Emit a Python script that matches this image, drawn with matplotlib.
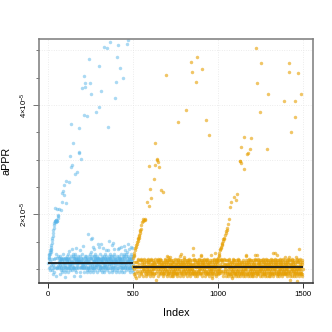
import numpy as np
import matplotlib
matplotlib.use("Agg")
import matplotlib.pyplot as plt
from matplotlib.ticker import FixedLocator, FixedFormatter

plt.rcParams['font.family'] = ['Liberation Sans', 'DejaVu Sans']
plt.rcParams['mathtext.fontset'] = 'custom'
plt.rcParams['mathtext.rm'] = 'Liberation Sans'
plt.rcParams['mathtext.default'] = 'regular'

# all values in units of 1e-5
SCALE = 1e-5

# dense band, one letter per index (a = lowest level, t = highest)
# blue: index 0-499, orange: index 500-1499
blue_band_lo, blue_band_step = 0.813, 0.033
blue_band = (
    "jhmkgiolfn kjhepmigqk lhjnfkdmio gjlkhnemjf ikmhgjolck"
    "mgjkhlnfie hkjmgoildk jnhflkmgej ilkhjmfngo kgjlnhiemb"
    "hjlkgmifnk ljhkemgjoi nkhgljfmki hjmlkgnief lkjhmgoinc"
    "gkmjhlifon jkhmglenjk ihlkgjnmfh kjlgcmhekn jhgkmlofij"
    "lhkjgnmief kgjhlmonik hjkglnfmej ilgkhjmnfk gjlhkiemop"
    "khjlmgifnj hlkgjmenki jgkhlnmfoi kjhglimenk hjkmlgfnid"
    "mjhkgliofn jlhkmgenjk gkjhlmnfie khjlgmoink jhlkgmifnq"
    "hkgjlmnife kjhlgmoink ljgkhmenfj ihkjlgmnof gkjlhmiekn"
    "jlkhgmnfio hkjglmenrk kgjhlmfnoj ihlkjgmenf kjhgmlonie"
    "lgkjhmifno jhkgpmenjk hkjlgmnfie gjkhlmoink jlhkgmfnie"
)
orange_band_lo, orange_band_step = 0.742, 0.032
orange_band = (
    "kgjhmlifne jhkglmdnjk hlkjgmnfoi gkjhlmeink jlhkgmfnoi"
    "hjkglmnfie kjhlgmoink gjlkhmenfj ihkjlgmnof lkjhgmiekn"
    "jkhglmnfoi hkjlgmenik kgjhlmfnoj ihlkjgmcnf kjhgmlonie"
    "gljkhmifno jhkglmenjk hkjlgmnfie gjkhlmoink jlhkgmfnie"
    "mhjkglpnfo kjhmgleonj ihklgjnmfe kjlgimhenk jhgkmlofij"
    "lkhjgnmief kgjhlmonik hjkglnfmej ilgkhjmnfk gjlhkiemop"
    "khjlmgifnj hlkgjmenki jgkhlnmfoi kjhglimenk hjkmlgfnid"
    "ijhkgmlonf jlhkmgenjk gkjhlmnfie khjlgmoink jhlkgmifnq"
    "hkgjlmnife kjhlgmoink ljgkhmenfj ihkjlgmnof gkjlhmiekn"
    "jlkhgmnfio hkjgdmenik kgjhlmfnoj ihlkjgmenf kjhgmlonie"
    "fkjhlgmnie gjkhlmonik jhlkgmfnei kgjhlmnofi hjkglmenik"
    "kjhglmnief hlkjgmoinf jgkhlmenfi khjgldmnoe ihjkglmnfk"
    "gjhklmnife kjglhmoien hkjglmnfie jlkhgmoinf kjhglmenif"
    "hkjgmlnfei jkhlgmqinf gkjhlmnefi hjklgmoine kjhlgmnfie"
    "jkgmhlnife hjklgmoinf kgjhlmnefi jhkglmoinf kjhlgmenfi"
    "lhjkgmnife kjhglmoinf hjkgmlenfi kgjhlmoine jhkglmnfie"
    "hjgklmnfie kjhlgmoinf gjkhlmnefi hkjglmoinr kjhglmenfi"
    "kjhglmnfie hjkglmoinf jkhglmnefi kjhglmoinf hjkglmenfi"
    "jhkglmnife kjhglmoinf hkjglcnefi jkhglmoine kjhglmnfie"
    "hkjglmnfie jhkgbmoinf kjhglmnefi hjkglmoinf jkhglmenfi"
)

# points away from the band: (index, value)
blue_extra = [
    (1, 1.19), (3, 1.22), (5, 1.25), (7, 1.28), (9, 1.31), (11, 1.34), (13, 1.37),
    (15, 1.40), (17, 1.44), (19, 1.48), (21, 1.53), (23, 1.57), (25, 1.61), (27, 1.66),
    (29, 1.71), (31, 1.75), (33, 1.80), (35, 1.84), (37, 1.86), (39, 1.88), (41, 1.87),
    (43, 1.89), (45, 1.86), (47, 1.90), (49, 1.88), (53, 1.87), (55, 1.98), (57, 1.94),
    (59, 1.96), (40, 2.12), (52, 2.10), (65, 2.09), (75, 2.08), (79, 2.22), (106, 2.21),
    (83, 2.39), (87, 2.42), (91, 2.36), (94, 2.54), (103, 2.61), (122, 2.59), (132, 2.86),
    (138, 2.91), (156, 2.74), (167, 2.77), (195, 3.01), (128, 3.06), (179, 3.13),
    (183, 3.14), (147, 3.30), (133, 3.65), (178, 3.58), (350, 3.60), (209, 3.82),
    (230, 3.80), (283, 3.87), (301, 3.96), (395, 4.12), (250, 4.21), (309, 4.26),
    (197, 4.31), (214, 4.33), (216, 4.40), (244, 4.40), (399, 4.43), (210, 4.53),
    (439, 4.49), (297, 4.72), (421, 4.68), (242, 4.85), (403, 4.88), (330, 5.07),
    (348, 5.04), (409, 5.09), (466, 5.11), (362, 5.16), (468, 5.19),
    (236, 1.64), (259, 1.57), (251, 1.54), (310, 1.46), (299, 1.41), (358, 1.52),
    (427, 1.40), (476, 1.37), (162, 1.38), (185, 1.35), (205, 1.42), (270, 1.36),
    (290, 1.45), (320, 1.39), (340, 1.34), (375, 1.43), (385, 1.37), (410, 1.36),
    (445, 1.42), (455, 1.35), (490, 1.41), (495, 1.38), (120, 1.33), (140, 1.36),
    (380, 1.48), (470, 1.45), (265, 1.40),
]
orange_extra = [
    (501, 1.20), (503, 1.23), (505, 1.26), (508, 1.30), (511, 1.35), (514, 1.38),
    (517, 1.41), (519, 1.44), (521, 1.46), (524, 1.50), (527, 1.52), (529, 1.54),
    (531, 1.56), (533, 1.57), (535, 1.60), (537, 1.63), (539, 1.66), (541, 1.70),
    (543, 1.72), (545, 1.73), (549, 1.80), (553, 1.86), (557, 1.88), (560, 1.92),
    (564, 1.90), (568, 1.91), (572, 1.89),
    (639, 3.00), (645, 2.96), (631, 2.90), (594, 2.88), (654, 2.86), (623, 2.65),
    (601, 2.46), (666, 2.44), (676, 2.41), (605, 2.29), (584, 2.23), (592, 2.15),
    (627, 3.30), (643, 3.02), (694, 4.55), (763, 3.68), (814, 3.90), (843, 4.79),
    (849, 4.60), (871, 4.43), (878, 4.87), (908, 4.65), (930, 3.72), (949, 3.46),
    (999, 1.14), (1002, 1.20), (1004, 1.23), (1006, 1.26), (1009, 1.30), (1012, 1.35),
    (1015, 1.36), (1018, 1.38), (1020, 1.40), (1022, 1.43), (1024, 1.45), (1026, 1.47),
    (1029, 1.51), (1032, 1.54), (1035, 1.55), (1038, 1.57), (1042, 1.62), (1045, 1.66),
    (1048, 1.69), (1051, 1.72), (1055, 1.75), (1060, 1.82), (1067, 1.91), (1071, 2.13),
    (1077, 2.22), (1093, 2.31), (1105, 2.27), (1111, 2.37), (1130, 2.97), (1136, 2.94),
    (1152, 2.83),
    (1128, 2.98), (1138, 3.23), (1156, 3.41), (1173, 3.10), (1179, 3.12), (1191, 3.19),
    (1195, 3.40), (1225, 5.05), (1232, 4.41), (1248, 3.88), (1254, 4.77), (1291, 3.20),
    (1297, 4.21), (1388, 4.07), (1417, 4.61), (1421, 4.77), (1433, 3.50), (1456, 4.07),
    (1457, 3.78), (1474, 4.59), (1488, 4.20),
    (851, 1.38), (780, 1.27), (776, 1.23), (855, 1.25), (959, 1.26), (702, 1.23),
    (717, 1.22), (1323, 1.30), (1480, 1.36), (1219, 1.26), (1229, 1.26), (1164, 1.24),
    (1349, 1.25), (1396, 1.22), (1419, 1.22), (1460, 1.21), (985, 1.30), (900, 1.24),
]

# fitted levels and the index range they span
blue_level, blue_span = 1.11, (0, 500)
orange_level, orange_span = 1.035, (500, 1500)


def build(start, code, lo, step, extra):
    levels = np.array([ord(c) - ord('a') for c in code.replace(" ", "")])
    idx = start + np.arange(len(levels))
    vals = lo + levels * step
    for i, v in extra:
        vals[i - start] = v
    return idx, vals * SCALE


bx, by = build(0, blue_band, blue_band_lo, blue_band_step, blue_extra)
ox, oy = build(500, orange_band, orange_band_lo, orange_band_step, orange_extra)

fig = plt.figure(figsize=(332 / 72, 332 / 72), dpi=72)
ax = fig.add_axes([0.1175, 0.1467, 0.8238, 0.7373])

# dotted grid
for g in [1, 2, 3, 4, 5]:
    ax.axhline(g * SCALE, color='#e4e4e4', lw=0.8, ls=(0, (1, 2)), zorder=0)
for g in [0, 500, 1000, 1500]:
    ax.axvline(g, color='#e4e4e4', lw=0.8, ls=(0, (1, 2)), zorder=0)

ax.scatter(bx, by, s=12, color='#56B4E9', alpha=0.5, linewidths=0, zorder=2)
ax.scatter(ox, oy, s=12, color='#E69F00', alpha=0.6, linewidths=0, zorder=2)
ax.hlines(blue_level * SCALE, *blue_span, color='#1a1a1a', lw=1.8, zorder=3)
ax.hlines(orange_level * SCALE, *orange_span, color='#1a1a1a', lw=1.8, zorder=3)

ax.set_xlim(-55, 1558)
ax.set_ylim(0.737 * SCALE, 5.217 * SCALE)

ax.xaxis.set_major_locator(FixedLocator([0, 500, 1000, 1500]))
ax.yaxis.set_major_locator(FixedLocator([2 * SCALE, 4 * SCALE]))
ax.yaxis.set_major_formatter(FixedFormatter([r'$2{\times}10^{-5}$', r'$4{\times}10^{-5}$']))
ax.yaxis.set_minor_locator(FixedLocator([v * SCALE for v in [1, 1.5, 2.5, 3, 3.5, 4.5, 5]]))
plt.setp(ax.get_yticklabels(), rotation=90, va='center')

ax.tick_params(axis='x', length=5, width=1, color='#333333', labelsize=7.7, pad=3)
ax.tick_params(axis='y', which='major', length=6, width=1, color='#777777', labelsize=7.7, pad=3)
ax.tick_params(axis='y', which='minor', length=3, width=1, color='#777777')

for side in ['left', 'right', 'top']:
    ax.spines[side].set_color('#808080')
    ax.spines[side].set_linewidth(1.6)
ax.spines['bottom'].set_color('#333333')
ax.spines['bottom'].set_linewidth(1.6)

ax.set_xlabel('Index', fontsize=10.7)
ax.set_ylabel('aPPR', fontsize=10.7)
ax.xaxis.set_label_coords(0.5, -0.1)
ax.yaxis.set_label_coords(-0.1, 0.5)

fig.savefig('out.png', dpi=72)
